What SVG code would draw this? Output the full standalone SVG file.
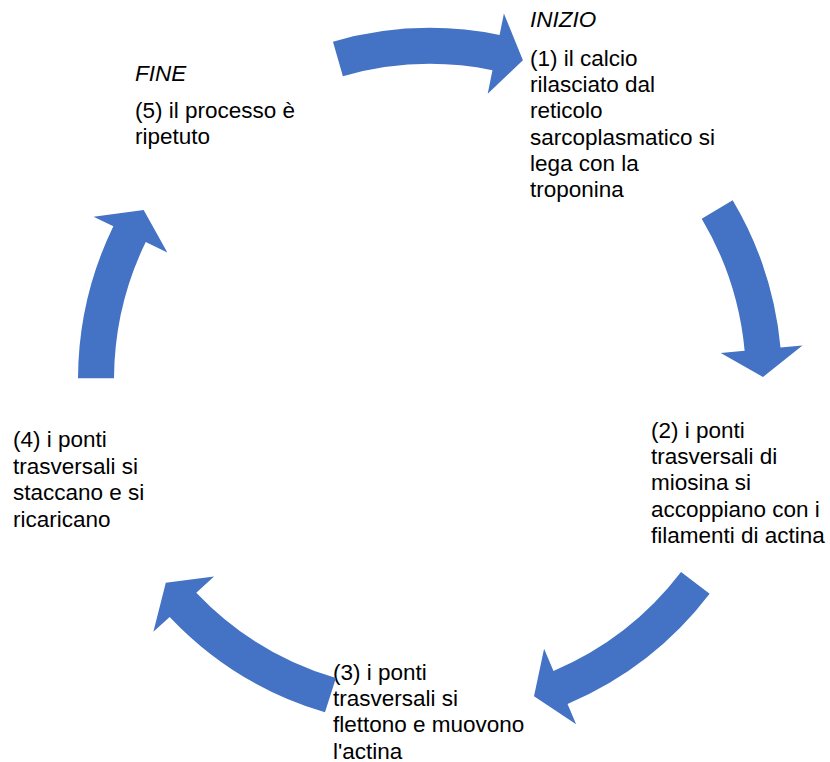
<svg xmlns="http://www.w3.org/2000/svg" width="830" height="762" viewBox="0 0 830 762">
<style>
.arrow{fill:#4472C4;stroke:none}
.t{font-family:"Liberation Sans",Arial,sans-serif;font-size:22.5px;fill:#000}
.it{font-style:italic}
</style>
<rect width="830" height="762" fill="#fff"/>
<g id="node1">
<text class="t it" x="530" y="27">INIZIO</text>
<text class="t"><tspan x="530" y="65.5">(1) il calcio</tspan><tspan x="530" y="91.9">rilasciato dal</tspan><tspan x="530" y="118.2">reticolo</tspan><tspan x="530" y="144.6">sarcoplasmatico si</tspan><tspan x="530" y="170.9">lega con la</tspan><tspan x="530" y="197.3">troponina</tspan></text>
</g>
<g id="node2">
<text class="t"><tspan x="651" y="437.5">(2) i ponti</tspan><tspan x="651" y="463.9">trasversali di</tspan><tspan x="651" y="490.2">miosina si</tspan><tspan x="651" y="516.6">accoppiano con i</tspan><tspan x="651" y="542.9">filamenti di actina</tspan></text>
</g>
<g id="node3">
<text class="t"><tspan x="333" y="679.5">(3) i ponti</tspan><tspan x="333" y="705.8">trasversali si</tspan><tspan x="333" y="732.2">flettono e muovono</tspan><tspan x="333" y="758.5">l'actina</tspan></text>
</g>
<g id="node4">
<text class="t"><tspan x="13" y="447">(4) i ponti</tspan><tspan x="13" y="473.6">trasversali si</tspan><tspan x="13" y="500.2">staccano e si</tspan><tspan x="13" y="526.8">ricaricano</tspan></text>
</g>
<g id="node5">
<text class="t it" x="135" y="80.7">FINE</text>
<text class="t"><tspan x="135" y="117.7">(5) il processo è</tspan><tspan x="135" y="144">ripetuto</tspan></text>
</g>
<g id="connectors">
<path class="arrow" d="M 332.97 41.64 A 352 352 0 0 1 499.58 34.94 L 503.92 13.38 L 522.90 60.22 L 487.72 93.76 L 492.46 70.23 A 316 316 0 0 0 342.90 76.24 Z"/>
<path class="arrow" d="M 732.67 200.29 A 352 352 0 0 1 780.49 347.49 L 802.40 345.45 L 762.99 377.09 L 720.75 353.03 L 744.65 350.81 A 316 316 0 0 0 701.71 218.67 Z"/>
<path class="arrow" d="M 709.63 593.80 A 352 352 0 0 1 567.54 704.02 L 576.13 724.27 L 534.01 696.34 L 544.09 648.79 L 553.47 670.88 A 316 316 0 0 0 681.03 571.93 Z"/>
<path class="arrow" d="M 324.98 712.34 A 352 352 0 0 1 169.65 616.90 L 153.38 631.71 L 165.81 582.72 L 214.03 576.52 L 196.28 592.67 A 316 316 0 0 0 335.93 678.04 Z"/>
<path class="arrow" d="M 78.0 378.16 A 352 352 0 0 1 113.35 226.25 L 93.56 216.64 L 143.67 209.99 L 167.33 252.45 L 145.74 241.97 A 316 316 0 0 0 114.0 378.34 Z"/>
</g>
</svg>
